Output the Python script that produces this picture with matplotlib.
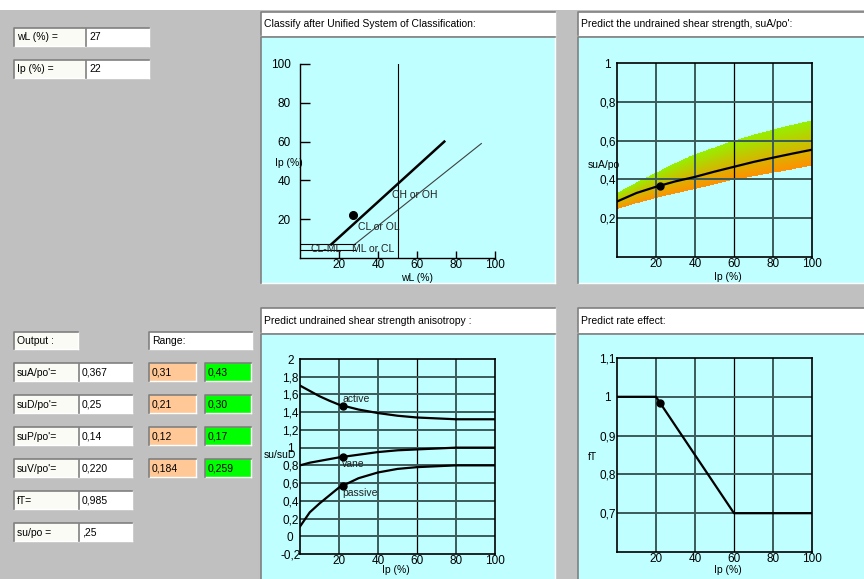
import numpy as np
import matplotlib
matplotlib.use("Agg")
import matplotlib.pyplot as plt
from matplotlib.patches import Rectangle

W, H = 864, 579
plt.rcParams['font.family'] = ['Liberation Sans', 'DejaVu Sans']
plt.rcParams['font.size'] = 7.5

GRAY = '#c0c0c0'
CYAN = '#c0ffff'
GRID = '#3c5a5a'
PEACH = '#ffc896'
GREEN = '#00ff00'

# input fields
input_labels = ['wL (%) =', 'Ip (%) =']
input_values = ['27', '22']
wl_point = 27
ip_point = 22

# output fields
out_labels = ["suA/po'=", "suD/po'=", "suP/po'=", "suV/po'=", "fT=", "su/po ="]
out_values = ['0,367', '0,25', '0,14', '0,220', '0,985', ',25']
range_low = ['0,31', '0,21', '0,12', '0,184']
range_high = ['0,43', '0,30', '0,17', '0,259']

# plasticity chart
uline_wl = [16, 74]
uline_ip = [7, 60]
aline_wl = [28, 93]
aline_ip = [7, 59]
clml_wl = [0, 28]
clml_ip = [4, 7]
wl_limit = 50

# suA/po' vs Ip
ip_grid = [0, 10, 20, 30, 40, 50, 60, 70, 80, 90, 100]
sua_mid = [0.286, 0.33, 0.362, 0.39, 0.413, 0.44, 0.465, 0.49, 0.512, 0.533, 0.553]
sua_high = [0.33, 0.385, 0.435, 0.485, 0.53, 0.565, 0.60, 0.63, 0.657, 0.682, 0.705]
sua_low = [0.247, 0.277, 0.304, 0.328, 0.35, 0.375, 0.398, 0.416, 0.434, 0.452, 0.471]
sua_point = 0.367

# anisotropy vs Ip
ip_aniso = [0, 5, 10, 15, 20, 30, 40, 50, 60, 70, 80, 90, 100]
active = [1.70, 1.64, 1.58, 1.53, 1.485, 1.43, 1.39, 1.36, 1.34, 1.33, 1.32, 1.32, 1.32]
vane = [0.80, 0.83, 0.85, 0.87, 0.89, 0.92, 0.95, 0.97, 0.98, 0.99, 1.0, 1.0, 1.0]
passive = [0.11, 0.27, 0.37, 0.46, 0.55, 0.655, 0.72, 0.76, 0.78, 0.79, 0.80, 0.80, 0.80]
aniso_points = [1.474, 0.896, 0.571]
aniso_names = ['active', 'vane', 'passive']
aniso_label_y = [1.545, 0.81, 0.49]

# rate effect
ip_rate = [0, 20, 60, 100]
ft_rate = [1.0, 1.0, 0.7, 0.7]
ft_point = 0.985

fig = plt.figure(figsize=(W / 100, H / 100), dpi=100)
bg = fig.add_axes([0, 0, 1, 1])
bg.set_xlim(0, W)
bg.set_ylim(H, 0)
bg.axis('off')
bg.add_patch(Rectangle((0, 0), W, H, fc=GRAY, ec='none'))
bg.add_patch(Rectangle((0, 0), W, 10, fc='white', ec='none'))


def sunken(x0, y0, x1, y1, fc='white'):
    bg.add_patch(Rectangle((x0, y0), x1 - x0, y1 - y0, fc=fc, ec='none'))
    bg.plot([x0, x1], [y1, y1], color='white', lw=1.0)
    bg.plot([x1, x1], [y0, y1], color='white', lw=1.0)
    bg.plot([x0, x0, x1], [y1, y0, y0], color='#808080', lw=1.2)


def field(x0, y0, x1, y1, text, fc='white'):
    sunken(x0, y0, x1, y1, fc)
    bg.text(x0 + 3, (y0 + y1) / 2 + 0.5, text, ha='left', va='center')


# left side fields
for i, (lab, val) in enumerate(zip(input_labels, input_values)):
    y0 = 28 + i * 32
    field(14, y0, 85, y0 + 18, lab, '#fbfbf6')
    field(86, y0, 149, y0 + 18, val)

field(14, 332, 78, 349, 'Output :', '#fbfbf6')
field(149, 332, 252, 349, 'Range:')
for i, (lab, val) in enumerate(zip(out_labels, out_values)):
    y0 = 363 + i * 32
    field(14, y0, 78, y0 + 18, lab, '#fbfbf6')
    field(79, y0, 132, y0 + 18, val)
for i, (lo, hi) in enumerate(zip(range_low, range_high)):
    y0 = 363 + i * 32
    field(149, y0, 196, y0 + 18, lo, PEACH)
    field(205, y0, 251, y0 + 18, hi, GREEN)

# panel frames and titles
titles = ['Classify after Unified System of Classification:',
          "Predict the undrained shear strength, suA/po':",
          'Predict undrained shear strength anisotropy :',
          'Predict rate effect:']
frames = [(261, 555, 12, 35, 37, 283), (578, 866, 12, 35, 37, 283),
          (261, 555, 308, 332, 334, 581), (578, 866, 308, 332, 334, 581)]
for t, (x0, x1, ty0, ty1, cy0, cy1) in zip(titles, frames):
    field(x0, ty0, x1, ty1, t)
    sunken(x0, cy0, x1, cy1, CYAN)


def chart(x0, y0, x1, y1, xlim, ylim):
    ax = fig.add_axes([x0 / W, 1 - y1 / H, (x1 - x0) / W, (y1 - y0) / H])
    ax.set_xlim(xlim)
    ax.set_ylim(ylim)
    ax.patch.set_alpha(0)
    return ax


def grid_chart(ax, yticks, ylabels):
    for s in ax.spines.values():
        s.set_color('black')
        s.set_linewidth(1.2)
    for x in [20, 40, 60, 80]:
        if x == 60:
            ax.axvline(x, color='black', lw=0.9, zorder=1)
        else:
            ax.axvline(x, color=GRID, lw=1.4, zorder=1)
    lo, hi = ax.get_ylim()
    for y in yticks:
        if lo + 1e-6 < y < hi - 1e-6:
            ax.axhline(y, color=GRID, lw=1.4, zorder=1)
    ax.set_xticks([20, 40, 60, 80, 100], ['20', '40', '60', '80', '100'])
    ax.set_yticks(yticks, ylabels)
    ax.tick_params(axis='both', length=0, labelsize=8.5)
    ax.tick_params(axis='y', pad=7)
    ax.tick_params(axis='x', pad=1)
    plt.setp(ax.get_yticklabels(), ha='center')


# panel 1: plasticity chart
ax1 = chart(300, 64, 495, 258, (0, 100), (0, 100))
ax1.spines['top'].set_visible(False)
ax1.spines['right'].set_visible(False)
ax1.spines['left'].set_linewidth(1.0)
ax1.spines['bottom'].set_linewidth(1.0)
ax1.set_xticks([20, 40, 60, 80, 100])
ax1.set_yticks([20, 40, 60, 80, 100])
ax1.tick_params(axis='y', direction='in', length=7.2, width=1, pad=6.5, labelsize=8.5)
ax1.tick_params(axis='x', direction='in', length=5, width=1, pad=1, labelsize=8.5)
ax1.plot(uline_wl, uline_ip, color='black', lw=1.8)
ax1.plot(aline_wl, aline_ip, color='#404040', lw=0.8)
ax1.plot([wl_limit, wl_limit], [0, 100], color='black', lw=0.8)
for ip in clml_ip:
    ax1.plot(clml_wl, [ip, ip], color='black', lw=0.8)
ax1.plot(wl_point, ip_point, 'o', color='black', ms=5.5)
ax1.text(47, 32.5, 'CH or OH', ha='left', va='center', color='#202020')
ax1.text(29.7, 16, 'CL or OL', ha='left', va='center', color='#202020')
ax1.text(5.6, 4.6, 'CL-ML', ha='left', va='center', color='#202020')
ax1.text(26.5, 4.6, 'ML or CL', ha='left', va='center', color='#202020')
bg.text(275, 163, 'Ip (%)', ha='left', va='center')
bg.text(401, 278, 'wL (%)', ha='left', va='center')

# panel 2: suA/po' with range band
ax2 = chart(617, 63, 812, 257, (0, 100), (0, 1))
xs = np.linspace(0, 100, 401)
ys = np.linspace(0, 1, 801)
lo = np.interp(xs, ip_grid, sua_low)
hi = np.interp(xs, ip_grid, sua_high)
t = (ys[:, None] - lo[None, :]) / (hi - lo)[None, :]
inside = (t >= 0) & (t <= 1)
top_col = np.array([150, 240, 0]) / 255
bot_col = np.array([255, 145, 0]) / 255
rgba = np.zeros((len(ys), len(xs), 4))
rgba[..., :3] = bot_col + (top_col - bot_col) * np.clip(t, 0, 1)[..., None]
rgba[..., 3] = inside
ax2.imshow(rgba, extent=[0, 100, 0, 1], origin='lower', aspect='auto',
           interpolation='nearest', zorder=0.5)
ax2.set_xlim(0, 100)
ax2.set_ylim(0, 1)
grid_chart(ax2, [0.2, 0.4, 0.6, 0.8, 1.0], ['0,2', '0,4', '0,6', '0,8', '1'])
ax2.plot(ip_grid, sua_mid, color='black', lw=1.6, zorder=2)
ax2.plot(ip_point, sua_point, 'o', color='black', ms=5, zorder=3)
bg.text(588, 165, 'suA/po', ha='left', va='center')
bg.text(728, 277, 'Ip (%)', ha='center', va='center')

# panel 3: anisotropy
ax3 = chart(300, 359, 495, 554, (0, 100), (-0.2, 2.0))
ticks3 = [-0.2, 0, 0.2, 0.4, 0.6, 0.8, 1.0, 1.2, 1.4, 1.6, 1.8, 2.0]
labels3 = ['-0,2', '0', '0,2', '0,4', '0,6', '0,8', '1', '1,2', '1,4', '1,6', '1,8', '2']
grid_chart(ax3, ticks3, labels3)
for curve, pt, name, ly in zip([active, vane, passive], aniso_points, aniso_names, aniso_label_y):
    ax3.plot(ip_aniso, curve, color='black', lw=1.6, zorder=2)
    ax3.plot(ip_point, pt, 'o', color='black', ms=5, zorder=3)
    ax3.text(21.7, ly, name, ha='left', va='center', color='#202020', zorder=4)
bg.text(264, 455, 'su/suD', ha='left', va='center')
bg.text(396, 570, 'Ip (%)', ha='center', va='center')

# panel 4: rate effect
ax4 = chart(617, 358, 812, 552, (0, 100), (0.6, 1.1))
grid_chart(ax4, [0.7, 0.8, 0.9, 1.0, 1.1], ['0,7', '0,8', '0,9', '1', '1,1'])
ax4.plot(ip_rate, ft_rate, color='black', lw=1.6, zorder=2)
ax4.plot(ip_point, ft_point, 'o', color='black', ms=5, zorder=3)
bg.text(588, 457, 'fT', ha='left', va='center')
bg.text(728, 570, 'Ip (%)', ha='center', va='center')

fig.savefig('out.png', dpi=100)
